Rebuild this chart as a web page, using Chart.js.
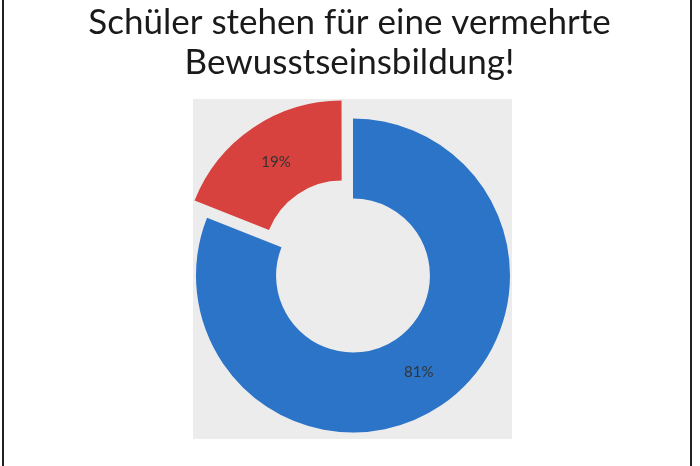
<!DOCTYPE html>
<html>
<head>
<meta charset="utf-8">
<script src="https://cdn.jsdelivr.net/npm/chart.js@4.4.0/dist/chart.umd.min.js"></script>
<style>
  html, body { margin: 0; padding: 0; background: #fff; }
  #page { position: relative; width: 700px; height: 466px; }
  #frame { position: absolute; left: 2px; top: 0; width: 690px; height: 466px;
           border-left: 2px solid #222; border-right: 2px solid #222; box-sizing: border-box; }
  canvas { position: absolute; left: 0; top: 0; }
</style>
</head>
<body>
<div id="page">
  <div id="frame"></div>
  <canvas id="chart" width="700" height="466"></canvas>
</div>
<script>
const titleLines = ["Schüler stehen für eine vermehrte", "Bewusstseinsbildung!"];
const labels = ["Ja", "Nein"];
const shares = [81, 19];
const sliceColors = ["#2b74c8", "#d8423e"];
// chart.js moves an arc by offset / 4
const sliceOffsets = [0, 80];

// light grey plot background behind the ring
const plotBg = {
  id: "plotBg",
  beforeDraw(chart) {
    const { ctx, chartArea: a } = chart;
    ctx.save();
    ctx.fillStyle = "#ececec";
    ctx.fillRect(a.left + 7, a.top - 11, a.right - a.left - 15, a.bottom - a.top + 9);
    ctx.restore();
  }
};

// two line heading, centred on the page
const heading = {
  id: "heading",
  afterDraw(chart) {
    const { ctx } = chart;
    ctx.save();
    ctx.font = "35px Lato";
    ctx.fillStyle = "#1a1a1a";
    ctx.textAlign = "center";
    ctx.textBaseline = "alphabetic";
    titleLines.forEach((line, i) => ctx.fillText(line, 349.5, 34 + i * 40));
    ctx.restore();
  }
};

// percentage labels in the middle of each arc
const pctLabels = {
  id: "pctLabels",
  afterDatasetsDraw(chart) {
    const { ctx } = chart;
    const meta = chart.getDatasetMeta(0);
    const total = shares.reduce((s, v) => s + v, 0);
    ctx.save();
    ctx.font = "15px Lato";
    ctx.fillStyle = "#333";
    ctx.textAlign = "center";
    ctx.textBaseline = "middle";
    meta.data.forEach((arc, i) => {
      const p = arc.getProps(["x", "y", "startAngle", "endAngle", "innerRadius", "outerRadius"]);
      const mid = (p.startAngle + p.endAngle) / 2;
      const r = (p.innerRadius + p.outerRadius) / 2 + sliceOffsets[i] / 4;
      const txt = Math.round(shares[i] / total * 100) + "%";
      ctx.fillText(txt, p.x + Math.cos(mid) * r, p.y + Math.sin(mid) * r);
    });
    ctx.restore();
  }
};

new Chart(document.getElementById("chart"), {
  type: "doughnut",
  data: {
    labels: labels,
    datasets: [{
      data: shares,
      backgroundColor: sliceColors,
      borderWidth: 0,
      offset: sliceOffsets
    }]
  },
  options: {
    responsive: false,
    animation: false,
    radius: 157,
    cutout: "49%",
    layout: { padding: { top: 110, bottom: 25, left: 186, right: 180 } },
    plugins: {
      legend: { display: false },
      tooltip: { enabled: false },
      title: { display: false }
    }
  },
  plugins: [plotBg, heading, pctLabels]
});
</script>
</body>
</html>
